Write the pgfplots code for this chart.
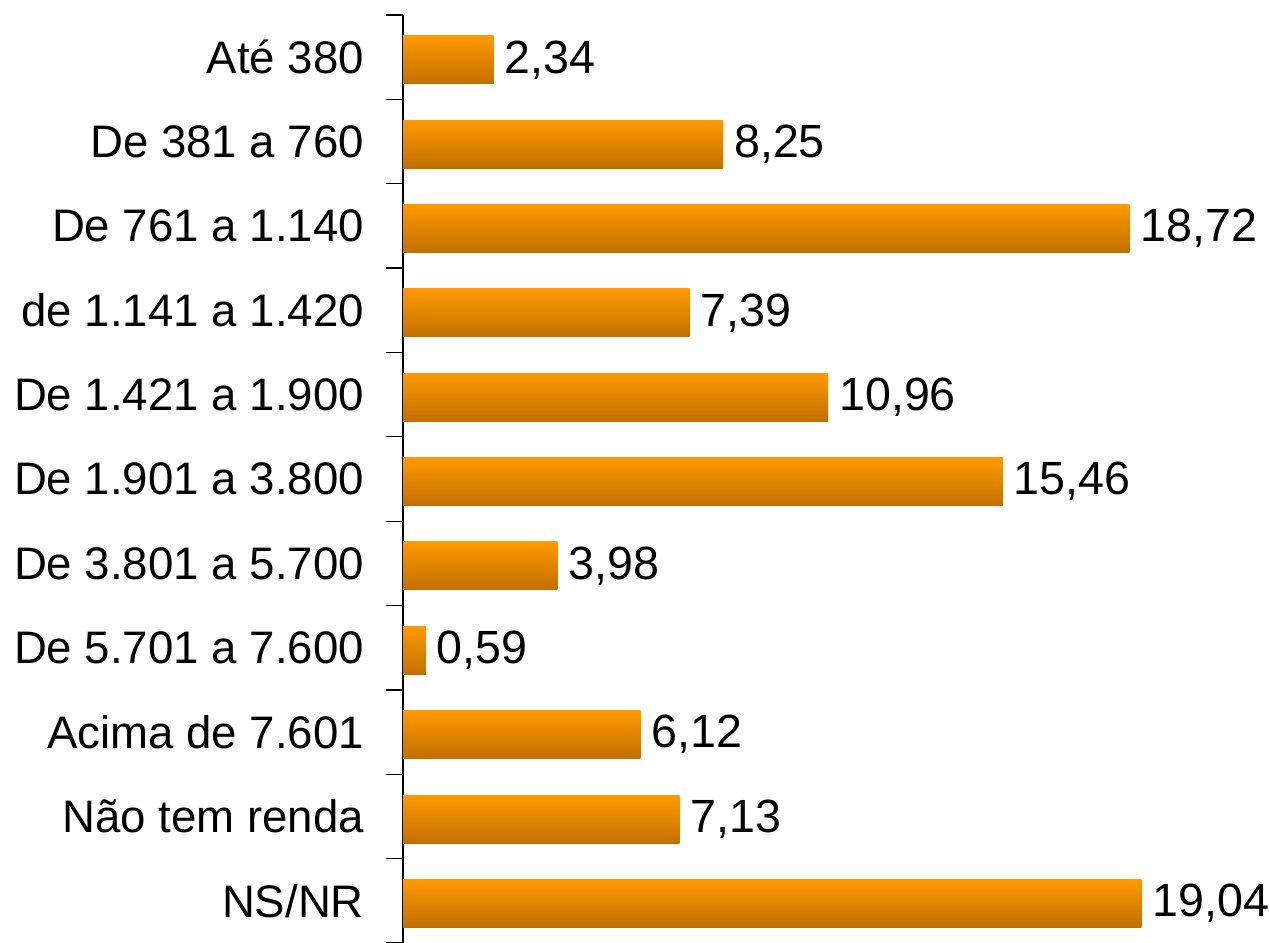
\documentclass[border=0pt]{standalone}
\usepackage{fontspec}
\setmainfont{Liberation Sans}
\usepackage{pgfplots}
\pgfplotsset{compat=1.18}
\definecolor{barTop}{RGB}{255,153,0}
\definecolor{barMid}{RGB}{249,148,0}
\definecolor{barBot}{RGB}{192,112,0}
\pgfplotsset{gbar/.style={draw=none, top color=barTop, middle color=barMid, bottom color=barBot, bar shift=-1.3pt}}
\begin{document}
\begin{tikzpicture}[x=1pt,y=1pt]
\begin{axis}[
  at={(0,0)}, anchor=south west,
  scale only axis, width=388pt, height=464pt,
  xmin=0, xmax=20, ymin=-0.5, ymax=10.5, y dir=reverse,
  axis y line*=left, hide x axis,
  clip=false,
  ytick={0,...,10},
  yticklabels={Até 380, De 381 a 760, De 761 a 1.140, de 1.141 a 1.420, De 1.421 a 1.900, De 1.901 a 3.800, De 3.801 a 5.700, De 5.701 a 7.600, Acima de 7.601, Não tem renda, NS/NR},
  major tick length=0pt,
  minor ytick={-0.5,0.5,...,10.5},
  minor tick length=8.5pt, tick align=outside,
  y axis line style={line width=1pt, black},
  minor tick style={line width=0.6pt, black},
  yticklabel style={font=\fontsize{22.8}{27}\selectfont, xshift=-16pt},
  xbar, bar width=24pt,
  nodes near coords, nodes near coords align={horizontal},
  every node near coord/.append style={font=\fontsize{23.3}{27}\selectfont, black, xshift=2pt},
  /pgf/number format/use comma,
  /pgf/number format/fixed,
  /pgf/number format/fixed zerofill,
  /pgf/number format/precision=2,
  /pgf/number format/assume math mode=true,
]
\addplot[gbar] coordinates {(2.34,0)};
\addplot[gbar] coordinates {(8.25,1)};
\addplot[gbar] coordinates {(18.72,2)};
\addplot[gbar] coordinates {(7.39,3)};
\addplot[gbar] coordinates {(10.96,4)};
\addplot[gbar] coordinates {(15.46,5)};
\addplot[gbar] coordinates {(3.98,6)};
\addplot[gbar] coordinates {(0.59,7)};
\addplot[gbar] coordinates {(6.12,8)};
\addplot[gbar] coordinates {(7.13,9)};
\addplot[gbar] coordinates {(19.04,10)};
\end{axis}
\pgfresetboundingbox
\path[use as bounding box] (-201.5,0) rectangle (433.5,471.5);
\end{tikzpicture}
\end{document}
